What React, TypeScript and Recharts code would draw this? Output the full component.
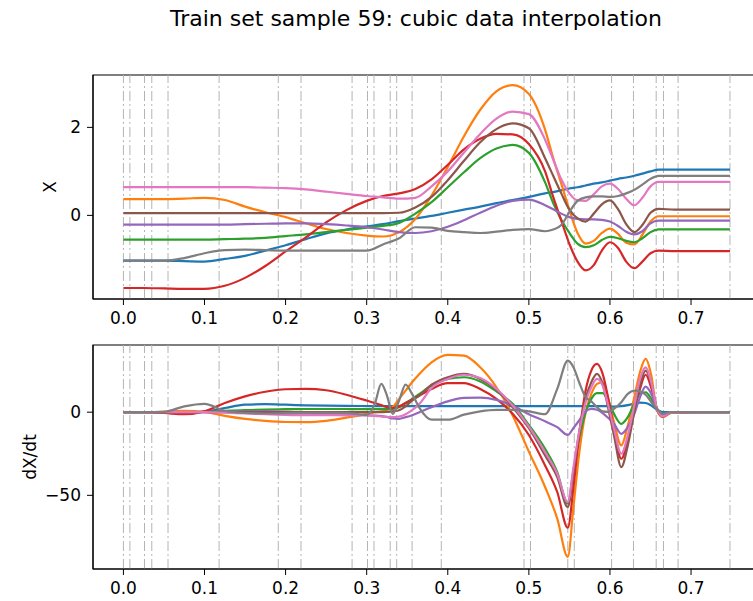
import React from "react";
import { LineChart, Line, XAxis, YAxis, ReferenceLine, ReferenceArea } from "recharts";

// observation times (grey dash-dot markers)
const OBS_T = [0, 0.008, 0.026, 0.035, 0.055, 0.118, 0.191, 0.219, 0.282, 0.301, 0.309, 0.329, 0.337, 0.356, 0.392, 0.494, 0.502, 0.548, 0.556, 0.602, 0.629, 0.657, 0.666, 0.684, 0.748];

const X_TICKS = [0, 0.1, 0.2, 0.3, 0.4, 0.5, 0.6, 0.7];

// top panel: X
const T_X = [0, 0.025, 0.05, 0.075, 0.1, 0.125, 0.15, 0.175, 0.2, 0.225, 0.25, 0.275, 0.3, 0.32, 0.34, 0.36, 0.38, 0.4, 0.42, 0.44, 0.46, 0.48, 0.5, 0.52, 0.53, 0.54, 0.55, 0.56, 0.57, 0.58, 0.59, 0.6, 0.61, 0.62, 0.63, 0.64, 0.65, 0.66, 0.68, 0.7, 0.725, 0.748];
const X_BLUE = [-1.03, -1.03, -1.03, -1.04, -1.05, -0.99, -0.92, -0.8, -0.68, -0.54, -0.41, -0.32, -0.25, -0.2, -0.13, -0.07, -0.01, 0.06, 0.13, 0.2, 0.28, 0.35, 0.42, 0.5, 0.53, 0.57, 0.61, 0.64, 0.68, 0.72, 0.75, 0.79, 0.83, 0.86, 0.9, 0.95, 1.0, 1.04, 1.04, 1.04, 1.04, 1.04];
const X_ORANGE = [0.37, 0.37, 0.37, 0.38, 0.4, 0.35, 0.2, 0.07, -0.04, -0.18, -0.31, -0.4, -0.46, -0.48, -0.38, -0.08, 0.45, 1.1, 1.8, 2.4, 2.82, 2.96, 2.76, 1.95, 1.3, 0.72, 0.12, -0.4, -0.64, -0.58, -0.4, -0.3, -0.42, -0.62, -0.66, -0.44, -0.14, -0.02, -0.02, -0.02, -0.02, -0.02];
const X_GREEN = [-0.55, -0.55, -0.55, -0.55, -0.55, -0.54, -0.53, -0.51, -0.47, -0.43, -0.38, -0.33, -0.28, -0.24, -0.17, 0.04, 0.3, 0.64, 0.98, 1.3, 1.52, 1.6, 1.42, 0.75, 0.28, -0.1, -0.4, -0.64, -0.72, -0.68, -0.56, -0.49, -0.52, -0.58, -0.61, -0.52, -0.38, -0.32, -0.32, -0.32, -0.32, -0.32];
const X_RED = [-1.65, -1.65, -1.66, -1.67, -1.67, -1.6, -1.42, -1.15, -0.82, -0.5, -0.16, 0.12, 0.33, 0.44, 0.5, 0.6, 0.82, 1.15, 1.5, 1.74, 1.85, 1.84, 1.62, 1.0, 0.42, -0.12, -0.65, -1.05, -1.25, -1.13, -0.8, -0.61, -0.74, -1.05, -1.2, -1.05, -0.86, -0.8, -0.81, -0.81, -0.81, -0.81];
const X_PURPLE = [-0.21, -0.21, -0.21, -0.21, -0.21, -0.21, -0.2, -0.19, -0.18, -0.18, -0.2, -0.23, -0.27, -0.32, -0.38, -0.4, -0.36, -0.26, -0.11, 0.06, 0.22, 0.33, 0.36, 0.23, 0.14, 0.04, -0.04, -0.08, -0.09, -0.09, -0.1, -0.14, -0.24, -0.37, -0.43, -0.36, -0.18, -0.12, -0.12, -0.12, -0.12, -0.12];
const X_BROWN = [0.05, 0.05, 0.05, 0.05, 0.05, 0.05, 0.05, 0.05, 0.05, 0.05, 0.05, 0.05, 0.05, 0.05, 0.06, 0.18, 0.42, 0.8, 1.24, 1.66, 1.96, 2.09, 1.98, 1.3, 0.9, 0.5, 0.13, -0.07, -0.14, 0.04, 0.25, 0.34, 0.14, -0.2, -0.38, -0.22, 0.06, 0.15, 0.13, 0.13, 0.13, 0.13];
const X_PINK = [0.64, 0.64, 0.64, 0.64, 0.64, 0.64, 0.64, 0.63, 0.62, 0.59, 0.54, 0.49, 0.44, 0.41, 0.38, 0.4, 0.66, 1.0, 1.43, 1.85, 2.2, 2.36, 2.3, 1.72, 1.27, 0.82, 0.5, 0.34, 0.33, 0.48, 0.66, 0.72, 0.6, 0.38, 0.23, 0.4, 0.66, 0.76, 0.76, 0.76, 0.76, 0.76];
const X_GREY = [-1.03, -1.03, -1.03, -0.97, -0.86, -0.79, -0.78, -0.79, -0.8, -0.8, -0.8, -0.8, -0.8, -0.66, -0.52, -0.27, -0.28, -0.35, -0.38, -0.4, -0.37, -0.33, -0.31, -0.36, -0.32, -0.22, 0.08, 0.33, 0.41, 0.43, 0.43, 0.42, 0.44, 0.5, 0.58, 0.7, 0.83, 0.9, 0.9, 0.9, 0.9, 0.9];

// bottom panel: dX/dt
const T_DX = [0, 0.025, 0.05, 0.075, 0.1, 0.125, 0.15, 0.175, 0.2, 0.225, 0.25, 0.275, 0.3, 0.31, 0.318, 0.325, 0.332, 0.34, 0.348, 0.356, 0.365, 0.38, 0.4, 0.42, 0.44, 0.46, 0.48, 0.5, 0.52, 0.535, 0.548, 0.555, 0.562, 0.57, 0.577, 0.584, 0.591, 0.598, 0.605, 0.614, 0.622, 0.63, 0.637, 0.644, 0.651, 0.658, 0.665, 0.675, 0.7, 0.725, 0.748];
const DX_BLUE = [0, 0, 0, -0.3, 0.3, 2.5, 4.5, 4.8, 4.5, 4.1, 3.9, 3.8, 3.7, 3.7, 3.7, 3.7, 3.7, 3.7, 3.7, 3.7, 3.7, 3.7, 3.7, 3.7, 3.7, 3.7, 3.7, 3.7, 3.7, 3.7, 3.7, 3.7, 3.7, 3.7, 3.7, 3.7, 3.7, 3.6, 3.4, 3.6, 4.2, 5.2, 5.8, 5.5, 4.0, 1.5, 0, 0, 0, 0, 0];
const DX_ORANGE = [0, 0, 0.3, 0.8, 0.2, -2.2, -4.0, -5.2, -5.9, -6.0, -5.2, -3.3, -1.0, 0, 0.5, 1.5, 3.0, 8, 13, 18, 23, 30, 34.5, 34, 27, 15, -2, -23.7, -45, -64, -87, -57, -25, 0, 11, 17, 18, 8, -6, -20, -8, 9, 24, 32, 22, 1, -3, -0.5, 0, 0, 0];
const DX_GREEN = [0, 0, 0, 0, 0.2, 0.8, 1.2, 1.6, 1.8, 1.9, 1.9, 1.9, 1.8, 1.8, 1.8, 1.8, 2.0, 3.0, 5.5, 8, 11, 16, 20, 21, 18.5, 12.5, 5, -7.7, -22, -36, -55, -35, -16, 0, 8, 11.5, 11.5, 6.4, -1, -7, -3, 5, 11, 12, 8, 1.5, -2, -0.3, 0, 0, 0];
const DX_RED = [0, 0, -0.5, -1.2, 0.5, 5.5, 9.5, 12.3, 13.8, 14.0, 13.2, 10.5, 7.0, 5.5, 4.3, 3.0, 2.5, 3.5, 5.5, 7.5, 10, 14, 17.5, 17.5, 14, 8, -1, -13.7, -32, -48, -69.5, -45, -14, 13, 25, 29, 23, 8, -10, -28, -17, 2, 14, 22.5, 14.5, 2, -2.6, -0.5, 0, 0, 0];
const DX_PURPLE = [0, 0, 0, 0, 0, 0.2, 0.5, 0.6, 0.4, -0.2, -0.8, -1.3, -1.8, -2.0, -2.3, -2.8, -3.8, -4.0, -3.0, -1.8, 0, 3, 6.5, 8.6, 8.8, 7.4, 3.8, -1.2, -5.5, -9, -13.7, -9.5, -5, 0.5, 2, 1.5, -0.5, -3.5, -7, -13, -9, -1, 9, 15.4, 11, 2, -1.5, 0, 0, 0, 0];
const DX_BROWN = [0, 0, 0, 0, 0, 0, 0, 0, 0, 0, 0, 0, 0, 0, 0, 0.2, 0.5, 1.2, 3.5, 7, 10, 16.5, 21, 23, 20, 13.5, 3, -9.6, -26, -39, -57, -36, -12, 8, 18, 23, 17, 2, -14, -33, -20, 0, 16, 25, 17, 2, -2.5, -0.3, 0, 0, 0];
const DX_PINK = [0, 0, 0, 0, 0, -0.3, -0.8, -1.2, -1.6, -1.8, -1.8, -1.9, -2.0, -2.2, -2.6, -2.9, -3.0, -2.6, -1.2, 1.2, 5, 14.5, 20, 22.5, 20.5, 14, 4, -8.7, -24, -37, -54, -33, -12, 6, 15, 20, 16, 4, -10, -25, -14, 4, 20, 27, 18, 2, -2.5, -0.3, 0, 0, 0];
const DX_GREY = [0, 0, 0.2, 3.5, 5.0, 0.8, -0.5, -0.8, -0.6, -0.4, -0.3, -0.5, -1.6, 5, 17, 10, -1, 7, 16.6, 11, 2.6, -4.5, -4.5, -1.5, 0.5, 1.4, 1.4, 0.5, -1.2, 14, 31, 27, 18, 9, 6.5, 3, 0.5, 0.2, 2, 6, 11, 13, 12.5, 10.5, 6, 2, -1, 0, 0, 0, 0];

// matplotlib tab10, plotting order C0..C7
const SERIES = [
  { key: "blue", color: "#1f77b4", x: X_BLUE, dx: DX_BLUE },
  { key: "orange", color: "#ff7f0e", x: X_ORANGE, dx: DX_ORANGE },
  { key: "green", color: "#2ca02c", x: X_GREEN, dx: DX_GREEN },
  { key: "red", color: "#d62728", x: X_RED, dx: DX_RED },
  { key: "purple", color: "#9467bd", x: X_PURPLE, dx: DX_PURPLE },
  { key: "brown", color: "#8c564b", x: X_BROWN, dx: DX_BROWN },
  { key: "pink", color: "#e377c2", x: X_PINK, dx: DX_PINK },
  { key: "grey", color: "#7f7f7f", x: X_GREY, dx: DX_GREY },
];

const xRows = T_X.map((t, i) => {
  const row: Record<string, number> = { t };
  SERIES.forEach((s) => (row[s.key] = s.x[i]));
  return row;
});
const dxRows = T_DX.map((t, i) => {
  const row: Record<string, number> = { t };
  SERIES.forEach((s) => (row[s.key] = s.dx[i]));
  return row;
});

const FONT = "DejaVu Sans";
const X_DOMAIN: [number, number] = [-0.0375, 0.7875];
const tickStyle = { fill: "#000", fontSize: 17, fontFamily: FONT };
const fmtY = (v: number) => String(v).replace("-", "\u2212");

function SideLabel({ text, cx, cy }: { text: string; cx: number; cy: number }) {
  return (
    <text x={cx} y={cy} transform={`rotate(-90 ${cx} ${cy})`} textAnchor="middle" dominantBaseline="central"
      fontFamily={FONT} fontSize={17} fill="#000">
      {text}
    </text>
  );
}

interface PanelProps {
  rows: Record<string, number>[];
  yDomain: [number, number];
  yTicks: number[];
  label: string;
  labelX: number;
  top: number;
  marginTop: number;
  height: number;
  axisHeight: number;
}

function Panel({ rows, yDomain, yTicks, label, labelX, top, marginTop, height, axisHeight }: PanelProps) {
  const cy = marginTop + (height - marginTop - axisHeight) / 2;
  return (
    <div style={{ position: "absolute", left: 0, top }}>
      <LineChart width={800} height={height} data={rows} margin={{ top: marginTop, right: 38, bottom: 0, left: 0 }}>
        <XAxis dataKey="t" type="number" domain={X_DOMAIN} allowDataOverflow ticks={X_TICKS}
          tickFormatter={(v: number) => v.toFixed(1)} tick={tickStyle} tickSize={6} tickMargin={7}
          height={axisHeight} axisLine={{ stroke: "#000" }} tickLine={{ stroke: "#000" }} />
        <YAxis type="number" domain={yDomain} allowDataOverflow ticks={yTicks} tickFormatter={fmtY}
          tick={tickStyle} tickSize={6} tickMargin={6} width={93}
          axisLine={{ stroke: "#000" }} tickLine={{ stroke: "#000" }}
          label={<SideLabel text={label} cx={labelX} cy={cy} />} />
        {OBS_T.map((t) => (
          <ReferenceLine key={t} x={t} stroke="#b4b4b4" strokeWidth={1} strokeDasharray="10 3 2 3" />
        ))}
        {SERIES.map((s) => (
          <Line key={s.key} type="monotone" dataKey={s.key} stroke={s.color} strokeWidth={2.2}
            dot={false} activeDot={false} isAnimationActive={false} />
        ))}
        <ReferenceArea x1={X_DOMAIN[0]} x2={X_DOMAIN[1]} y1={yDomain[0]} y2={yDomain[1]}
          fill="none" stroke="#000" strokeWidth={1.2} ifOverflow="visible" />
      </LineChart>
    </div>
  );
}

export default function App() {
  return (
    <div style={{ position: "absolute", left: 0, top: 0, width: 753, height: 601, overflow: "hidden", background: "#fff", fontFamily: FONT }}>
      <div style={{ position: "absolute", left: 0, top: 5, width: 832, textAlign: "center", fontSize: 22, lineHeight: "28px", color: "#000" }}>
        Train set sample 59: cubic data interpolation
      </div>
      <Panel rows={xRows} yDomain={[-1.9, 3.19]} yTicks={[0, 2]} label="X" labelX={50}
        top={0} marginTop={75} height={340} axisHeight={41} />
      <Panel rows={dxRows} yDomain={[-94.3, 40.4]} yTicks={[-50, 0]} label="dX/dt" labelX={30}
        top={300} marginTop={45} height={301} axisHeight={32} />
    </div>
  );
}
